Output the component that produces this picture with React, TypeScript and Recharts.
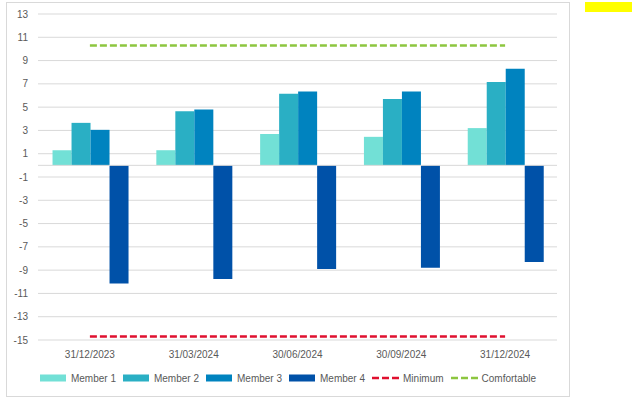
import { ComposedChart, Bar, Line, XAxis, YAxis, CartesianGrid, Legend, ReferenceLine } from "recharts";

const dates = ["31/12/2023", "31/03/2024", "30/06/2024", "30/09/2024", "31/12/2024"];
const member1 = [1.3, 1.3, 2.7, 2.45, 3.2];
const member2 = [3.65, 4.65, 6.15, 5.7, 7.15];
const member3 = [3.05, 4.8, 6.35, 6.35, 8.3];
const member4 = [-10.15, -9.75, -8.9, -8.8, -8.3];
const minimum = [-14.7, -14.7, -14.7, -14.7, -14.7];
const comfortable = [10.3, 10.3, 10.3, 10.3, 10.3];
const yTicks = [-15, -13, -11, -9, -7, -5, -3, -1, 1, 3, 5, 7, 9, 11, 13];

const COLORS = {
    m1: "#72E0D6",
    m2: "#2AAFC4",
    m3: "#0083BF",
    m4: "#0051A8",
    min: "#E0102F",
    comf: "#8DC63F",
};

const legendItems = [
    { name: "Member 1", color: COLORS.m1, kind: "bar" },
    { name: "Member 2", color: COLORS.m2, kind: "bar" },
    { name: "Member 3", color: COLORS.m3, kind: "bar" },
    { name: "Member 4", color: COLORS.m4, kind: "bar" },
    { name: "Minimum", color: COLORS.min, kind: "line" },
    { name: "Comfortable", color: COLORS.comf, kind: "line" },
];

function LegendContent() {
    return (
        <div style={{ display: "flex", justifyContent: "center", gap: 7, height: 16, alignItems: "center", fontSize: 10, color: "#595959" }}>
            {legendItems.map((it) => (
                <div key={it.name} style={{ display: "flex", alignItems: "center" }}>
                    <svg width={27} height={8} style={{ marginRight: 4 }}>
                        {it.kind === "bar" ? (
                            <rect x={0} y={0.5} width={26} height={7} fill={it.color} />
                        ) : (
                            <line x1={0} y1={4} x2={27} y2={4} stroke={it.color} strokeWidth={2.5} strokeDasharray="7 3" />
                        )}
                    </svg>
                    <span>{it.name}</span>
                </div>
            ))}
        </div>
    );
}

export default function App() {

    // one row per date for the chart
    const data = dates.map((d, i) => ({
        date: d,
        m1: member1[i],
        m2: member2[i],
        m3: member3[i],
        m4: member4[i],
        min: minimum[i],
        comf: comfortable[i],
    }));

    const tick = { fontSize: 10, fill: "#595959" };

    return (
        <div style={{ fontFamily: "'Liberation Sans', Arial, sans-serif" }}>
            <style>{"body{margin:0}"}</style>
            <div style={{ position: "absolute", left: 585, top: 2, width: 47, height: 10, background: "#FFFF00" }} />
            <div style={{ position: "absolute", left: 6, top: 2, width: 562, height: 393, border: "1px solid #D9D9D9", background: "#fff" }}>
                <ComposedChart width={562} height={393} data={data} margin={{ top: 11, right: 12, left: 0, bottom: 10 }}
                    barCategoryGap="14%" barGap={0}>
                    <CartesianGrid vertical={false} stroke="#D9D9D9" />
                    <XAxis dataKey="date" axisLine={false} tickLine={false} tick={tick} tickMargin={5} height={30} />
                    <YAxis domain={[-15, 13]} ticks={yTicks} axisLine={false} tickLine={false} tick={tick} tickMargin={4} width={31} interval={0} />
                    <ReferenceLine y={0} stroke="#D9D9D9" />
                    <Legend verticalAlign="bottom" content={<LegendContent />} wrapperStyle={{ left: 0, width: 562 }} />
                    <Bar dataKey="m1" name="Member 1" fill={COLORS.m1} isAnimationActive={false} />
                    <Bar dataKey="m2" name="Member 2" fill={COLORS.m2} isAnimationActive={false} />
                    <Bar dataKey="m3" name="Member 3" fill={COLORS.m3} isAnimationActive={false} />
                    <Bar dataKey="m4" name="Member 4" fill={COLORS.m4} isAnimationActive={false} />
                    <Line dataKey="min" name="Minimum" stroke={COLORS.min} strokeWidth={2.5} strokeDasharray="7 3" dot={false} isAnimationActive={false} />
                    <Line dataKey="comf" name="Comfortable" stroke={COLORS.comf} strokeWidth={2.5} strokeDasharray="7 3" dot={false} isAnimationActive={false} />
                </ComposedChart>
            </div>
        </div>
    );
}
